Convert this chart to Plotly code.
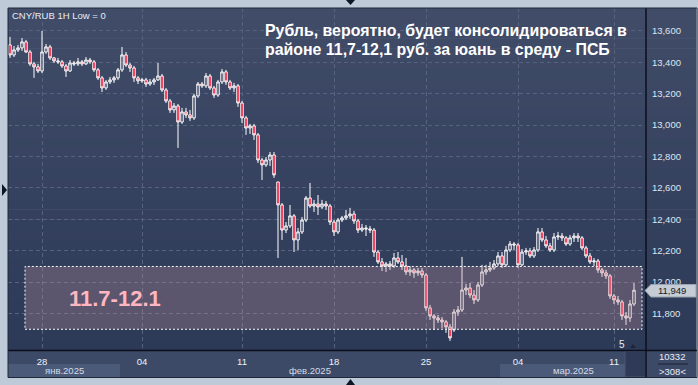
import plotly.graph_objects as go

# ---------------- data (CNY/RUB, 1H candles) ----------------
OPEN = [
    13.511, 13.447, 13.479, 13.492, 13.530, 13.466, 13.390, 13.371, 13.345, 13.466,
    13.498, 13.428, 13.409, 13.403, 13.377, 13.345, 13.396, 13.390, 13.403, 13.390,
    13.415, 13.403, 13.352, 13.301, 13.237, 13.275, 13.288, 13.301, 13.352, 13.447,
    13.383, 13.364, 13.301, 13.282, 13.288, 13.262, 13.275, 13.288, 13.313, 13.224,
    13.154, 13.097, 13.122, 13.020, 13.084, 13.065, 13.046, 13.186, 13.262, 13.250,
    13.313, 13.237, 13.192, 13.275, 13.339, 13.275, 13.237, 13.250, 13.141, 13.046,
    12.982, 12.995, 12.938, 12.778, 12.747, 12.778, 12.810, 12.638, 12.492, 12.332,
    12.358, 12.422, 12.269, 12.320, 12.396, 12.536, 12.485, 12.498, 12.479, 12.498,
    12.485, 12.383, 12.320, 12.396, 12.409, 12.422, 12.434, 12.390, 12.332, 12.345,
    12.339, 12.332, 12.192, 12.129, 12.103, 12.116, 12.103, 12.154, 12.129, 12.103,
    12.065, 12.078, 12.059, 12.071, 12.046, 11.836, 11.785, 11.772, 11.759, 11.747,
    11.715, 11.696, 11.810, 11.823, 11.950, 11.963, 11.918, 11.887, 11.982, 12.065,
    12.078, 12.090, 12.116, 12.167, 12.110, 12.205, 12.243, 12.237, 12.110, 12.192,
    12.199, 12.167, 12.205, 12.320, 12.269, 12.231, 12.205, 12.288, 12.294, 12.282,
    12.243, 12.282, 12.294, 12.282, 12.218, 12.167, 12.129, 12.135, 12.078, 12.059,
    12.040, 11.912, 11.887, 11.874, 11.785, 11.772, 11.861,
]
HIGH = [
    13.562, 13.504, 13.511, 13.555, 13.543, 13.479, 13.403, 13.390, 13.600, 13.517,
    13.511, 13.434, 13.428, 13.415, 13.390, 13.415, 13.409, 13.428, 13.415, 13.434,
    13.428, 13.415, 13.364, 13.313, 13.288, 13.307, 13.313, 13.364, 13.498, 13.466,
    13.396, 13.377, 13.313, 13.301, 13.301, 13.294, 13.301, 13.396, 13.326, 13.237,
    13.167, 13.141, 13.135, 13.110, 13.110, 13.097, 13.199, 13.275, 13.275, 13.332,
    13.326, 13.250, 13.288, 13.358, 13.352, 13.288, 13.269, 13.262, 13.154, 13.059,
    13.008, 13.008, 12.950, 12.791, 12.797, 12.829, 12.829, 12.638, 12.504, 12.383,
    12.492, 12.434, 12.345, 12.415, 12.549, 12.632, 12.524, 12.555, 12.524, 12.517,
    12.498, 12.396, 12.409, 12.422, 12.460, 12.473, 12.454, 12.403, 12.371, 12.364,
    12.358, 12.345, 12.205, 12.154, 12.129, 12.135, 12.186, 12.192, 12.173, 12.154,
    12.103, 12.090, 12.090, 12.090, 12.059, 11.855, 11.797, 11.791, 11.778, 11.759,
    11.734, 11.829, 11.848, 12.161, 11.989, 11.995, 11.950, 12.001, 12.110, 12.110,
    12.129, 12.141, 12.192, 12.192, 12.231, 12.262, 12.256, 12.250, 12.211, 12.218,
    12.218, 12.224, 12.345, 12.345, 12.294, 12.250, 12.313, 12.320, 12.313, 12.294,
    12.301, 12.313, 12.313, 12.294, 12.231, 12.186, 12.154, 12.148, 12.090, 12.078,
    12.052, 11.925, 11.912, 11.887, 11.810, 11.887, 11.995,
]
LOW = [
    13.428, 13.434, 13.466, 13.473, 13.460, 13.377, 13.301, 13.332, 13.332, 13.454,
    13.415, 13.396, 13.390, 13.364, 13.307, 13.339, 13.377, 13.377, 13.377, 13.383,
    13.390, 13.339, 13.288, 13.211, 13.224, 13.262, 13.269, 13.288, 13.339, 13.371,
    13.339, 13.275, 13.262, 13.269, 13.243, 13.250, 13.256, 13.282, 13.211, 13.141,
    13.078, 13.078, 12.855, 13.008, 13.046, 13.027, 13.033, 13.173, 13.237, 13.237,
    13.224, 13.173, 13.180, 13.262, 13.256, 13.224, 13.211, 13.116, 13.014, 12.938,
    12.944, 12.906, 12.759, 12.651, 12.734, 12.740, 12.664, 12.154, 12.269, 12.313,
    12.345, 12.192, 12.205, 12.307, 12.383, 12.473, 12.447, 12.428, 12.466, 12.460,
    12.364, 12.294, 12.307, 12.383, 12.396, 12.403, 12.371, 12.313, 12.320, 12.294,
    12.313, 12.161, 12.116, 12.071, 12.065, 12.078, 12.090, 12.116, 12.078, 12.046,
    12.040, 12.027, 12.040, 12.027, 11.817, 11.759, 11.696, 11.740, 11.708, 11.677,
    11.626, 11.683, 11.785, 11.810, 11.918, 11.899, 11.861, 11.874, 11.969, 12.046,
    12.065, 12.078, 12.103, 12.090, 12.097, 12.192, 12.205, 12.090, 12.103, 12.173,
    12.154, 12.154, 12.192, 12.256, 12.218, 12.192, 12.192, 12.269, 12.262, 12.231,
    12.231, 12.256, 12.256, 12.205, 12.154, 12.116, 12.103, 12.059, 12.033, 12.020,
    11.893, 11.861, 11.855, 11.759, 11.727, 11.747, 11.848,
]
CLOSE = [
    13.447, 13.479, 13.492, 13.530, 13.466, 13.390, 13.371, 13.345, 13.466, 13.498,
    13.428, 13.409, 13.403, 13.377, 13.345, 13.396, 13.390, 13.403, 13.390, 13.415,
    13.403, 13.352, 13.301, 13.237, 13.275, 13.288, 13.301, 13.352, 13.447, 13.383,
    13.364, 13.301, 13.282, 13.288, 13.262, 13.275, 13.288, 13.313, 13.224, 13.154,
    13.097, 13.122, 13.020, 13.084, 13.065, 13.046, 13.186, 13.262, 13.250, 13.313,
    13.237, 13.192, 13.275, 13.339, 13.275, 13.237, 13.250, 13.141, 13.046, 12.982,
    12.995, 12.938, 12.778, 12.747, 12.778, 12.810, 12.683, 12.492, 12.332, 12.358,
    12.422, 12.269, 12.320, 12.396, 12.536, 12.485, 12.498, 12.479, 12.498, 12.485,
    12.383, 12.320, 12.396, 12.409, 12.422, 12.434, 12.390, 12.332, 12.345, 12.339,
    12.332, 12.192, 12.129, 12.103, 12.116, 12.103, 12.154, 12.129, 12.103, 12.065,
    12.078, 12.059, 12.071, 12.046, 11.836, 11.785, 11.772, 11.759, 11.747, 11.715,
    11.645, 11.810, 11.823, 11.950, 11.963, 11.918, 11.887, 11.982, 12.065, 12.078,
    12.090, 12.116, 12.167, 12.110, 12.205, 12.243, 12.237, 12.110, 12.192, 12.199,
    12.167, 12.205, 12.320, 12.269, 12.231, 12.205, 12.288, 12.294, 12.282, 12.243,
    12.282, 12.294, 12.282, 12.218, 12.167, 12.129, 12.135, 12.078, 12.059, 12.040,
    11.912, 11.887, 11.874, 11.785, 11.772, 11.861, 11.949,
]

Y_TICKS = [11.8, 12.0, 12.2, 12.4, 12.6, 12.8, 13.0, 13.2, 13.4, 13.6]
DAY_LABELS = ["28", "04", "11", "18", "25", "04", "11"]
DAY_BARS = [8, 33, 58, 81, 104, 127, 151]          # first bar of each labelled day
MONTH_LABELS = ["янв.2025", "фев.2025", "мар.2025"]
MONTH_FIRST_BAR = [0, 28, 123]                      # first bar of each month

ZONE_LOW, ZONE_HIGH = 11.7, 12.1
ZONE_LABEL = "11.7-12.1"
SYMBOL_TEXT = "CNY/RUB 1H Low = 0"
TITLE_LINES = ["Рубль, вероятно, будет консолидироваться в",
               "районе 11,7-12,1 руб. за юань в среду - ПСБ"]
TOTAL_BARS_TEXT = "10332"
VISIBLE_BARS_TEXT = ">308<"

# ---------------- layout helpers ----------------
W, H = 698, 385
L, R, T, B = 8, 52, 8, 35
PW, PH = W - L - R, H - T - B


def px(x):
    return (x - L) / PW


def py(y):
    return 1 - (y - T) / PH


FONT = "Liberation Sans, Arial, sans-serif"
FRAME = "#bfcad9"
n = len(CLOSE)
xs = list(range(n))
X_RANGE = [-0.5, 159]
Y_RANGE = [11.568, 13.746]

fig = go.Figure()
fig.add_trace(go.Candlestick(
    x=xs, open=OPEN, high=HIGH, low=LOW, close=CLOSE,
    increasing=dict(line=dict(color="#ffffff", width=1), fillcolor="rgba(0,0,0,0)"),
    decreasing=dict(line=dict(color="#ffffff", width=1), fillcolor="#f0002c"),
    whiskerwidth=0, showlegend=False, hoverinfo="skip",
))

shapes = []
# gradient background for chart + right price panel
NB = 34
top_c, bot_c = (64, 76, 104), (44, 57, 87)
for k in range(NB):
    t = k / (NB - 1)
    c = tuple(round(top_c[j] + (bot_c[j] - top_c[j]) * t) for j in range(3))
    y0 = T + (350 - T) * k / NB
    y1 = T + (350 - T) * (k + 1) / NB
    shapes.append(dict(type="rect", xref="paper", yref="paper", layer="below",
                       x0=px(L), x1=px(696), y0=py(y1 + 0.6), y1=py(y0),
                       fillcolor="rgb(%d,%d,%d)" % c, line=dict(width=0)))
# bottom time strip
shapes.append(dict(type="rect", xref="paper", yref="paper", layer="below",
                   x0=px(L), x1=px(696), y0=py(377), y1=py(350),
                   fillcolor="#3c4a68", line=dict(width=0)))
# month bands (first and third month highlighted)
month_edges = [X_RANGE[0]] + [b - 0.5 for b in MONTH_FIRST_BAR[1:]] + [X_RANGE[1]]
for m in range(len(MONTH_LABELS)):
    if m % 2 == 0:
        shapes.append(dict(type="rect", xref="x", yref="paper", layer="below",
                           x0=month_edges[m], x1=month_edges[m + 1],
                           y0=py(377), y1=py(364),
                           fillcolor="#4b5a79", line=dict(width=0)))
# small dark scroll box at bottom right of time strip
shapes.append(dict(type="rect", xref="paper", yref="paper", layer="above",
                   x0=px(625), x1=px(645.5), y0=py(377), y1=py(351),
                   fillcolor="#2e3a56", line=dict(width=1, color="#4a5672")))
# price panel divider and time-strip divider
shapes.append(dict(type="line", xref="paper", yref="paper", layer="above",
                   x0=px(646), x1=px(646), y0=py(377), y1=py(L),
                   line=dict(color="#0b0f18", width=1.5)))
shapes.append(dict(type="line", xref="paper", yref="paper", layer="above",
                   x0=px(L), x1=px(697), y0=py(350.5), y1=py(350.5),
                   line=dict(color="#0b0f18", width=1.5)))
# outer dark border
shapes.append(dict(type="rect", xref="paper", yref="paper", layer="above",
                   x0=px(L), x1=px(697), y0=py(377.5), y1=py(L),
                   fillcolor="rgba(0,0,0,0)", line=dict(color="#1f2839", width=1)))
# underline between bar counters
shapes.append(dict(type="line", xref="paper", yref="paper", layer="above",
                   x0=px(658), x1=px(688), y0=py(364), y1=py(364),
                   line=dict(color="#1b2233", width=1)))
# consolidation zone
shapes.append(dict(type="rect", xref="x", yref="y", layer="above",
                   x0=3.75, x1=158.0, y0=ZONE_LOW, y1=ZONE_HIGH,
                   fillcolor="rgba(196,150,160,0.30)",
                   line=dict(color="#ffffff", width=1, dash="2px,2px")))


def tri(points):
    d = "M " + " L ".join("%f,%f" % (px(a), py(b)) for a, b in points) + " Z"
    return dict(type="path", xref="paper", yref="paper", layer="above", path=d,
                fillcolor="#0e1524", line=dict(width=0))


shapes.append(tri([(2, 184), (7, 190), (2, 196)]))
shapes.append(tri([(346, 0), (355, 0), (350.5, 5)]))
shapes.append(tri([(346, 385), (355, 385), (350.5, 379)]))
shapes.append(dict(type="path", xref="paper", yref="paper", layer="above",
                   path="M %f,%f L %f,%f L %f,%f Z" % (px(630), py(348), px(636), py(348), px(633), py(344)),
                   fillcolor="#1e2639", line=dict(width=0)))
# last-price tag
last = CLOSE[-1]
tag = [(645, 290.5), (651, 284.5), (696, 284.5), (696, 297), (651, 297)]
shapes.append(dict(type="path", xref="paper", yref="paper", layer="above",
                   path="M " + " L ".join("%f,%f" % (px(a), py(b)) for a, b in tag) + " Z",
                   fillcolor="#c6ccd5", line=dict(color="#9aa3b1", width=1)))

ann = []
ann.append(dict(text=SYMBOL_TEXT, xref="paper", yref="paper", x=px(9.5), y=py(15),
                xanchor="left", yanchor="middle", showarrow=False,
                font=dict(family=FONT, size=9.5, color="#e8edf5")))
for k, line in enumerate(TITLE_LINES):
    ann.append(dict(text="<b>%s</b>" % line, xref="paper", yref="paper",
                    x=px(262.5), y=py(30 + 19.5 * k), xanchor="left", yanchor="middle",
                    showarrow=False, font=dict(family=FONT, size=15.9, color="#ffffff")))
ann.append(dict(text="<b>%s</b>" % ZONE_LABEL, xref="paper", yref="paper",
                x=px(114.5), y=py(298.5), xanchor="center", yanchor="middle",
                showarrow=False, font=dict(family=FONT, size=22, color="#ffb6c1")))
for m, lab in enumerate(MONTH_LABELS):
    ann.append(dict(text=lab, xref="x", yref="paper",
                    x=(month_edges[m] + month_edges[m + 1]) / 2, y=py(370.5),
                    xanchor="center", yanchor="middle", showarrow=False,
                    font=dict(family=FONT, size=9.5, color="#d4dbe6")))
ann.append(dict(text="5", xref="paper", yref="paper", x=px(622), y=py(344),
                xanchor="center", yanchor="middle", showarrow=False,
                font=dict(family=FONT, size=10, color="#e8edf5")))
ann.append(dict(text=TOTAL_BARS_TEXT, xref="paper", yref="paper", x=px(672), y=py(357),
                xanchor="center", yanchor="middle", showarrow=False,
                font=dict(family=FONT, size=9.5, color="#e8edf5")))
ann.append(dict(text=VISIBLE_BARS_TEXT, xref="paper", yref="paper", x=px(672), y=py(371),
                xanchor="center", yanchor="middle", showarrow=False,
                font=dict(family=FONT, size=9.5, color="#e8edf5")))
ann.append(dict(text=("%.3f" % last).replace(".", ","), xref="paper", yref="paper",
                x=px(672), y=py(290.7), xanchor="center", yanchor="middle", showarrow=False,
                font=dict(family=FONT, size=9.5, color="#151a26")))

GRID = "#56627e"
fig.update_layout(
    width=W, height=H, margin=dict(l=L, r=R, t=T, b=B, pad=0),
    paper_bgcolor=FRAME, plot_bgcolor="rgba(0,0,0,0)",
    separators=",.", showlegend=False, boxgap=0.12,
    font=dict(family=FONT, size=9.5, color="#e8edf5"),
    shapes=shapes, annotations=ann,
    xaxis=dict(range=X_RANGE, rangeslider=dict(visible=False),
               tickmode="array", tickvals=DAY_BARS, ticktext=DAY_LABELS,
               showgrid=True, gridcolor=GRID, griddash="4px,3px", gridwidth=1,
               zeroline=False, showline=False, ticks="outside", ticklen=3,
               tickcolor="rgba(0,0,0,0)",
               tickfont=dict(family=FONT, size=9.5, color="#eef2f8")),
    yaxis=dict(range=Y_RANGE, side="right", tickmode="array", tickvals=Y_TICKS,
               tickformat=".3f",
               showgrid=True, gridcolor=GRID, griddash="4px,3px", gridwidth=1,
               zeroline=False, showline=False, ticks="outside", ticklen=3,
               tickcolor="rgba(0,0,0,0)",
               tickfont=dict(family=FONT, size=9.5, color="#dfe6f0")),
)

fig.write_html(
    "out.html",
    config={"displayModeBar": False},
    post_script="document.body.style.margin='0';document.body.style.overflow='hidden';"
                "document.body.style.background='%s';" % FRAME,
)
